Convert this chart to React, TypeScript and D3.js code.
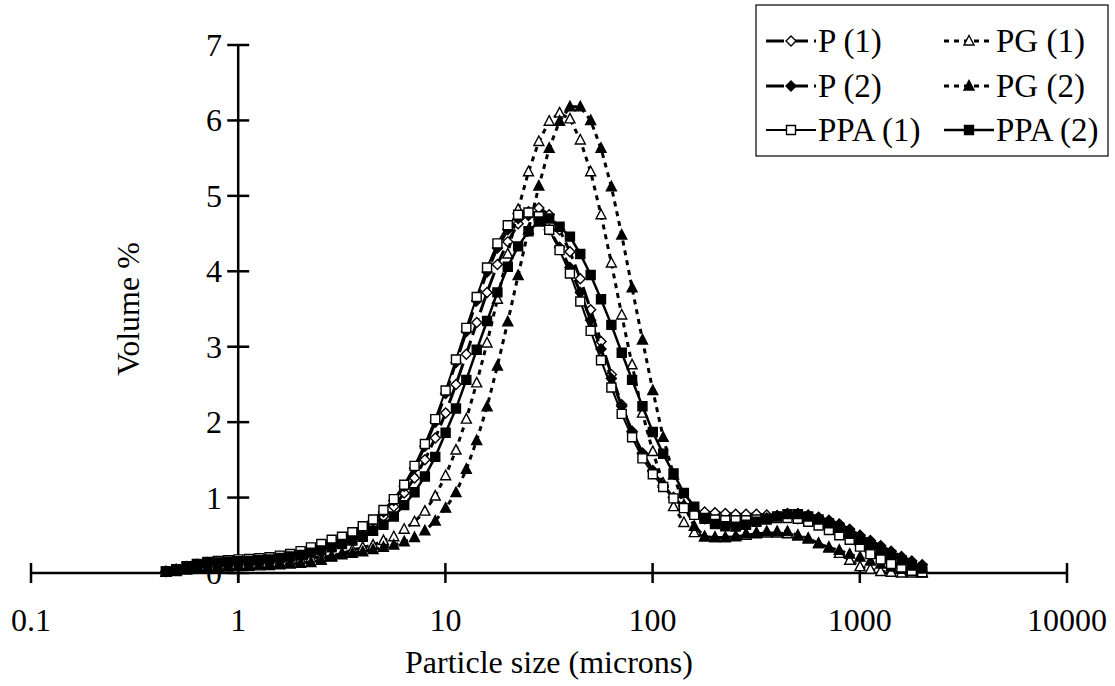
import React from 'react';
import * as d3 from 'd3';

const sizes = [0.448, 0.502, 0.564, 0.632, 0.71, 0.796, 0.893, 1.002, 1.125, 1.262, 1.416, 1.589, 1.783, 2.0, 2.244, 2.518, 2.825, 3.17, 3.557, 3.991, 4.477, 5.024, 5.637, 6.325, 7.096, 7.962, 8.934, 10.024, 11.247, 12.619, 14.159, 15.887, 17.825, 20.0, 22.44, 25.179, 28.251, 31.698, 35.566, 39.905, 44.774, 50.238, 56.368, 63.246, 70.963, 79.621, 89.337, 100.237, 112.468, 126.191, 141.589, 158.866, 178.25, 200.0, 224.404, 251.785, 282.508, 316.979, 355.656, 399.052, 447.744, 502.377, 563.677, 632.456, 709.627, 796.214, 893.367, 1002.374, 1124.683, 1261.915, 1415.892, 1588.656, 1782.502, 2000.0];

const P1 = [0.02, 0.05, 0.08, 0.11, 0.13, 0.145, 0.155, 0.165, 0.17, 0.18, 0.19, 0.21, 0.23, 0.26, 0.3, 0.34, 0.39, 0.43, 0.49, 0.56, 0.64, 0.75, 0.88, 1.06, 1.26, 1.5, 1.79, 2.12, 2.5, 2.9, 3.32, 3.72, 4.09, 4.39, 4.63, 4.79, 4.84, 4.75, 4.55, 4.26, 3.9, 3.49, 3.07, 2.63, 2.23, 1.87, 1.58, 1.35, 1.16, 1.0, 0.89, 0.83, 0.81, 0.8, 0.79, 0.78, 0.78, 0.78, 0.77, 0.76, 0.75, 0.72, 0.69, 0.65, 0.6, 0.54, 0.46, 0.37, 0.28, 0.2, 0.13, 0.07, 0.03, 0.01];
const PG1 = [0.01, 0.03, 0.05, 0.07, 0.085, 0.095, 0.1, 0.105, 0.11, 0.115, 0.125, 0.14, 0.16, 0.18, 0.2, 0.21, 0.225, 0.26, 0.305, 0.34, 0.37, 0.43, 0.48, 0.58, 0.68, 0.82, 1.02, 1.29, 1.63, 2.04, 2.52, 3.05, 3.63, 4.23, 4.82, 5.32, 5.72, 5.99, 6.1, 6.02, 5.74, 5.32, 4.75, 4.11, 3.42, 2.76, 2.12, 1.61, 1.19, 0.88, 0.67, 0.535, 0.48, 0.47, 0.47, 0.48, 0.5, 0.52, 0.53, 0.53, 0.52, 0.49, 0.45, 0.39, 0.33, 0.26, 0.17, 0.085, 0.05, 0.02, 0.01, 0.0, 0.0, 0.0];
const P2 = [0.02, 0.05, 0.085, 0.115, 0.14, 0.15, 0.16, 0.17, 0.175, 0.185, 0.2, 0.22, 0.24, 0.28, 0.32, 0.37, 0.42, 0.46, 0.52, 0.6, 0.69, 0.81, 0.96, 1.15, 1.39, 1.68, 2.0, 2.38, 2.79, 3.2, 3.61, 3.99, 4.31, 4.55, 4.7, 4.74, 4.69, 4.55, 4.32, 4.05, 3.72, 3.35, 2.97, 2.58, 2.21, 1.88, 1.59, 1.36, 1.16, 1.0, 0.88, 0.78, 0.72, 0.68, 0.66, 0.66, 0.68, 0.7, 0.73, 0.76, 0.79, 0.79, 0.77, 0.74, 0.7, 0.65, 0.58, 0.5, 0.43, 0.36, 0.29, 0.22, 0.16, 0.11];
const PG2 = [0.01, 0.02, 0.04, 0.055, 0.065, 0.075, 0.08, 0.085, 0.09, 0.095, 0.1, 0.11, 0.12, 0.13, 0.14, 0.17, 0.21, 0.24, 0.26, 0.28, 0.31, 0.34, 0.37, 0.415, 0.47, 0.56, 0.69, 0.86, 1.065, 1.375, 1.755, 2.205, 2.745, 3.33, 3.945, 4.55, 5.13, 5.63, 5.99, 6.18, 6.18, 6.0, 5.63, 5.12, 4.48, 3.78, 3.09, 2.42, 1.8, 1.3, 0.9, 0.62, 0.48, 0.47, 0.47, 0.49, 0.52, 0.535, 0.55, 0.55, 0.55, 0.5, 0.46, 0.39, 0.34, 0.3, 0.25, 0.21, 0.16, 0.12, 0.08, 0.05, 0.03, 0.01];
const PPA1 = [0.02, 0.05, 0.09, 0.12, 0.145, 0.16, 0.17, 0.18, 0.186, 0.195, 0.208, 0.23, 0.252, 0.29, 0.34, 0.385, 0.44, 0.48, 0.54, 0.62, 0.71, 0.835, 0.98, 1.17, 1.42, 1.71, 2.04, 2.42, 2.83, 3.25, 3.66, 4.05, 4.37, 4.61, 4.75, 4.78, 4.73, 4.55, 4.28, 3.97, 3.6, 3.21, 2.82, 2.46, 2.11, 1.8, 1.52, 1.31, 1.14, 0.99, 0.86, 0.77, 0.73, 0.71, 0.7, 0.7, 0.7, 0.71, 0.72, 0.73, 0.73, 0.72, 0.68, 0.63, 0.57, 0.5, 0.44, 0.35, 0.25, 0.18, 0.12, 0.075, 0.03, 0.01];
const PPA2 = [0.02, 0.05, 0.08, 0.11, 0.13, 0.14, 0.15, 0.155, 0.16, 0.17, 0.18, 0.2, 0.22, 0.24, 0.27, 0.3, 0.34, 0.385, 0.43, 0.48, 0.56, 0.64, 0.75, 0.9, 1.07, 1.28, 1.54, 1.86, 2.18, 2.56, 2.96, 3.34, 3.72, 4.06, 4.33, 4.53, 4.66, 4.7, 4.59, 4.46, 4.23, 3.95, 3.63, 3.29, 2.92, 2.56, 2.21, 1.87, 1.58, 1.32, 1.06, 0.88, 0.72, 0.65, 0.62, 0.615, 0.64, 0.68, 0.71, 0.75, 0.78, 0.78, 0.75, 0.71, 0.66, 0.6, 0.52, 0.44, 0.37, 0.3, 0.24, 0.17, 0.1, 0.06];

const seriesNames = ['P (1)', 'PG (1)', 'P (2)', 'PG (2)', 'PPA (1)', 'PPA (2)'];
const xTicks = [0.1, 1, 10, 100, 1000, 10000];
const xTickLabels = ['0.1', '1', '10', '100', '1000', '10000'];
const yTicks = [0, 1, 2, 3, 4, 5, 6, 7];

type Marker = 'diamond' | 'triangle' | 'square';
interface Style { marker: Marker; filled: boolean; dash: string; width: number; }
const styles: Style[] = [
  { marker: 'diamond', filled: false, dash: '18,6', width: 3 },
  { marker: 'triangle', filled: false, dash: '5,5', width: 3 },
  { marker: 'diamond', filled: true, dash: '18,6', width: 3 },
  { marker: 'triangle', filled: true, dash: '5,5', width: 3 },
  { marker: 'square', filled: false, dash: 'none', width: 2 },
  { marker: 'square', filled: true, dash: 'none', width: 2.5 },
];
const seriesValues = [P1, PG1, P2, PG2, PPA1, PPA2];

const FONT = "'Liberation Serif', 'Times New Roman', Times, 'DejaVu Serif', serif";

function markerPath(m: Marker): string {
  if (m === 'diamond') return 'M0,-5L5,0L0,5L-5,0Z';
  if (m === 'triangle') return 'M0,-5.5L5,4L-5,4Z';
  return 'M-4.5,-4.5H4.5V4.5H-4.5Z';
}

function MarkerShape({ s, x, y }: { s: Style; x: number; y: number }) {
  return (
    <path d={markerPath(s.marker)} transform={`translate(${x},${y})`}
      fill={s.filled ? '#000' : '#fff'} stroke="#000" strokeWidth={1.4} />
  );
}

const T = (props: any) => <text {...props} style={{ fontFamily: FONT }} fill="#000" />;

export default function App() {
  const W = 1115, H = 686;
  const x = d3.scaleLog().domain([0.1, 10000]).range([31, 1067]);
  const y = d3.scaleLinear().domain([0, 7]).range([573, 45]);
  const yAxisX = x(1);
  const line = d3.line<number>().x((_, i) => x(sizes[i])).y((v) => y(v));

  const legendCols = [766, 944];
  const legendRows = [41, 86, 130];

  return (
    <svg width={W} height={H} style={{ position: 'absolute', left: 0, top: 0, background: '#fff', fontFamily: FONT }}>
      <rect width={W} height={H} fill="#fff" />
      <line x1={x(0.1)} x2={x(10000)} y1={y(0)} y2={y(0)} stroke="#000" strokeWidth={2.5} />
      <line x1={yAxisX} x2={yAxisX} y1={y(7)} y2={y(0) + 10} stroke="#000" strokeWidth={2.5} />
      {xTicks.map((t, i) => (
        <g key={'xt' + i}>
          <line x1={x(t)} x2={x(t)} y1={y(0) - 10} y2={y(0) + 10} stroke="#000" strokeWidth={2.5} />
          <T x={x(t)} y={631} textAnchor="middle" fontSize={32}>{xTickLabels[i]}</T>
        </g>
      ))}
      {yTicks.map((t) => (
        <g key={'yt' + t}>
          <line x1={yAxisX - 11} x2={yAxisX + 11} y1={y(t)} y2={y(t)} stroke="#000" strokeWidth={2.5} />
          <T x={222} y={y(t) + 11} textAnchor="end" fontSize={32}>{t}</T>
        </g>
      ))}
      <T x={549} y={673} textAnchor="middle" fontSize={32}>Particle size (microns)</T>
      <T transform={`translate(139,${(y(0) + y(7)) / 2}) rotate(-90)`} textAnchor="middle" fontSize={32}>Volume %</T>

      {seriesValues.map((vals, si) => {
        const s = styles[si];
        return (
          <g key={'s' + si}>
            <path d={line(vals) || ''} fill="none" stroke="#000" strokeWidth={s.width}
              strokeDasharray={s.dash === 'none' ? undefined : s.dash} />
            {vals.map((v, i) => (
              <MarkerShape key={i} s={s} x={x(sizes[i])} y={y(v)} />
            ))}
          </g>
        );
      })}

      <rect x={756} y={5} width={352} height={151} fill="#fff" stroke="#000" strokeWidth={1.2} />
      {seriesNames.map((name, si) => {
        const s = styles[si];
        const col = si % 2;
        const row = Math.floor(si / 2);
        const lx = legendCols[col];
        const ly = legendRows[row];
        return (
          <g key={'lg' + si}>
            <line x1={lx} x2={lx + 50} y1={ly} y2={ly} stroke="#000" strokeWidth={s.width}
              strokeDasharray={s.dash === 'none' ? undefined : s.dash} />
            <MarkerShape s={s} x={lx + 25} y={ly} />
            <T x={lx + 52} y={ly + 11} fontSize={33}>{name}</T>
          </g>
        );
      })}
    </svg>
  );
}
